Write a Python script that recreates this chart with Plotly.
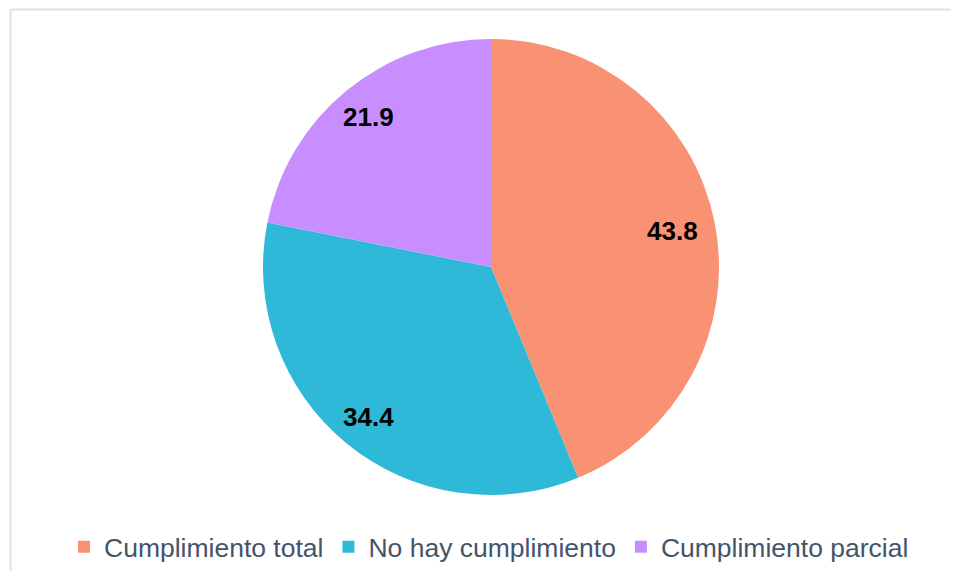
import math
import plotly.graph_objects as go

categories = ["Cumplimiento total", "No hay cumplimiento", "Cumplimiento parcial"]
values = [43.8, 34.4, 21.9]
colors = ["#F99273", "#2EB9D8", "#C88EFF"]

# the page body has an 8px margin; keep the figure inside the 959x579 window
W, H = 943, 563
CX, CY, RAD = 483, 259, 228
label_radius = [0.81, 0.85, 0.85]

def px(x):
    return x / W

def py(y):
    return 1 - y / H

fig = go.Figure(go.Pie(
    labels=categories,
    values=values,
    marker=dict(colors=colors, line=dict(width=0)),
    sort=False,
    direction="clockwise",
    rotation=0,
    textinfo="none",
    hoverinfo="label+value",
    domain=dict(x=[px(CX - RAD), px(CX + RAD)], y=[py(CY + RAD), py(CY - RAD)]),
))

# data labels placed along each slice bisector
total = sum(values)
cum = 0.0
for v, rf in zip(values, label_radius):
    mid = (cum + v / 2) / total * 2 * math.pi
    cum += v
    lx = CX + rf * RAD * math.sin(mid)
    ly = CY - rf * RAD * math.cos(mid)
    fig.add_annotation(x=px(lx), y=py(ly), xref="paper", yref="paper",
                       xanchor="center", yanchor="middle",
                       text=f"<b>{v:.1f}</b>", showarrow=False,
                       font=dict(family="Liberation Sans, Arial", size=26, color="black"))

# chart frame (top and left edges visible in the window)
fig.add_shape(type="line", xref="paper", yref="paper",
              x0=px(2.5), x1=1.0, y0=py(1.5), y1=py(1.5),
              line=dict(color="#DEE3EA", width=2), layer="below")
fig.add_shape(type="line", xref="paper", yref="paper",
              x0=px(2.5), x1=px(2.5), y0=py(1.5), y1=0.0,
              line=dict(color="#DEE3EA", width=2), layer="below")

fig.update_layout(
    width=W, height=H,
    margin=dict(l=0, r=0, t=0, b=0),
    paper_bgcolor="white",
    plot_bgcolor="white",
    font=dict(family="Liberation Sans, Arial", color="#44546A"),
    showlegend=True,
    legend=dict(orientation="h", xref="paper", yref="paper",
                x=px(56), xanchor="left", y=py(539), yanchor="middle",
                font=dict(size=26.5, color="#44546A"), traceorder="normal"),
)

fig.write_html("out.html")
